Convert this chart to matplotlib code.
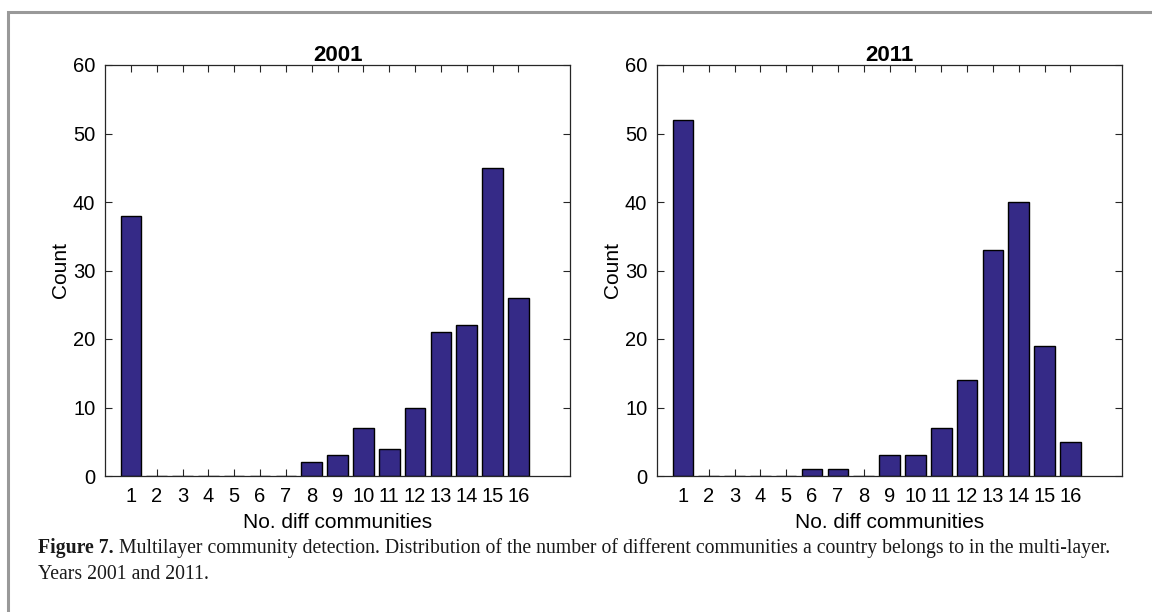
import matplotlib.pyplot as plt
from matplotlib.patches import Rectangle

# number of different communities per country, multi-layer detection
n_comm = list(range(1, 17))
count_2001 = [38, 0, 0, 0, 0, 0, 0, 2, 3, 7, 4, 10, 21, 22, 45, 26]
count_2011 = [52, 0, 0, 0, 0, 1, 1, 0, 3, 3, 7, 14, 33, 40, 19, 5]
years = ["2001", "2011"]

BAR_COLOR = "#352a87"
W, H = 1152, 612

plt.rcParams["font.family"] = ["Liberation Sans", "DejaVu Sans"]

fig = plt.figure(figsize=(W / 100, H / 100), dpi=100)

# frame around the figure panel
fig.patches.append(Rectangle((8 / W, -0.1), 1.2, 1 - 12 / H + 0.1,
                             transform=fig.transFigure, fill=False,
                             edgecolor="#999999", linewidth=2.2))


def panel(left, right, year, counts):
    ax = fig.add_axes([left / W, 1 - 476 / H, (right - left) / W, (476 - 65) / H])
    ax.bar(n_comm, counts, width=0.8, color=BAR_COLOR, edgecolor="black",
           linewidth=1.0, zorder=2)
    ax.set_xlim(0, 18)
    ax.set_ylim(0, 60)
    ax.set_xticks(n_comm)
    ax.set_yticks(range(0, 61, 10))
    ax.tick_params(direction="in", length=5, width=0.8, color="#262626",
                   top=True, right=True, labelsize=14.5)
    ax.tick_params(axis="x", pad=8)
    ax.tick_params(axis="y", pad=7)
    for s in ax.spines.values():
        s.set_color("#262626")
        s.set_linewidth(0.9)
    ax.set_title(year, fontsize=16, fontweight="bold", pad=3)
    ax.set_xlabel("No. diff communities", fontsize=15, labelpad=5)
    ax.set_ylabel("Count", fontsize=15, labelpad=2)
    return ax


panel(105, 570, years[0], count_2001)
panel(657, 1122, years[1], count_2011)

# caption
cap_kw = dict(family=["Liberation Serif", "DejaVu Serif"], fontsize=14.2,
              va="baseline", ha="left", color="#1a1a1a")
t = fig.text(38 / W, 1 - 553 / H, "Figure 7.", fontweight="bold", **cap_kw)
fig.canvas.draw()
bb = t.get_window_extent()
fig.text((bb.x1 + 5) / W, 1 - 553 / H,
         "Multilayer community detection. Distribution of the number of different "
         "communities a country belongs to in the multi-layer.", **cap_kw)
fig.text(38 / W, 1 - 579 / H, "Years 2001 and 2011.", **cap_kw)

fig.savefig("out.png", dpi=100)
